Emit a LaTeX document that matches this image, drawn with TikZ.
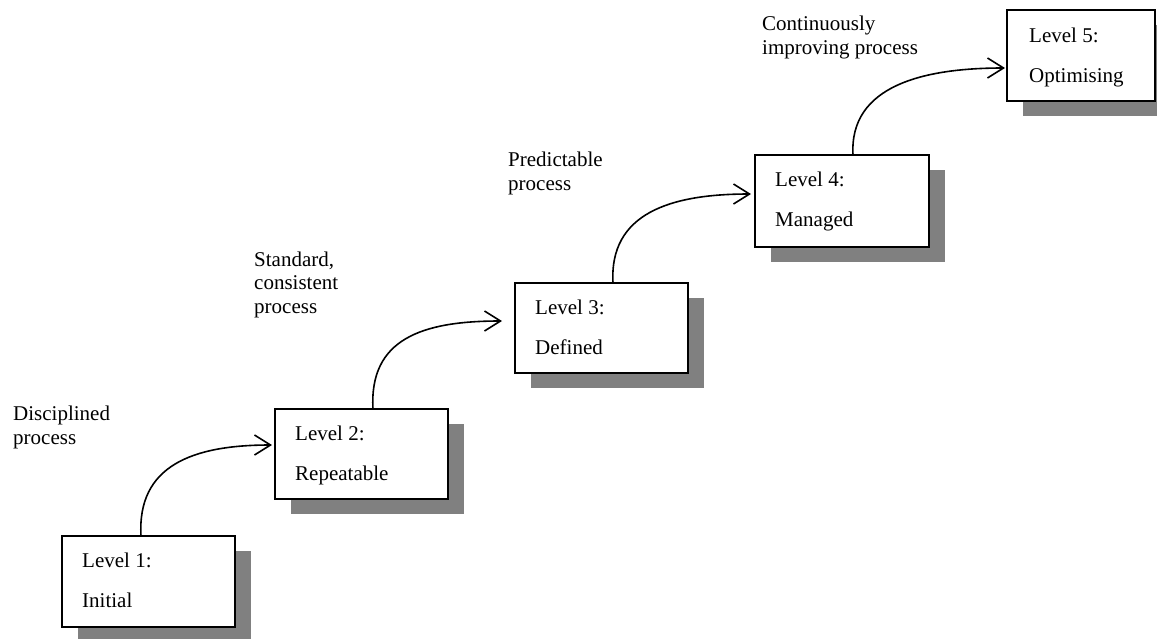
\documentclass[tikz,border=0pt]{standalone}
\usepackage{fontspec}
\setmainfont{Liberation Serif}
\usetikzlibrary{arrows.meta,calc,shadows}
\definecolor{shadowgray}{RGB}{128,128,128}
\begin{document}
\begin{tikzpicture}[x=1pt,y=-1pt,
  lvl/.style={draw=black, line width=1.8pt, fill=white, anchor=north west,
    inner sep=0pt, outer sep=0pt, minimum width=#1,
    drop shadow={shadow xshift=16pt, shadow yshift=-15pt, fill=shadowgray, opacity=1}},
  lvl/.default=173pt,
  boxtext/.style={anchor=base west, align=left, inner sep=0pt,
    font=\fontsize{21}{40}\selectfont},
  lbl/.style={anchor=base west, align=left, inner sep=0pt,
    font=\fontsize{21}{23.5}\selectfont},
  conn/.style={line width=1.6pt, -{Straight Barb[length=16pt,width=20pt,line width=1.6pt]}}
]
\useasboundingbox (0,0) rectangle (1157,638);

% level boxes
\node[lvl, minimum height=91pt] (l1) at (62,536) {};
\node[lvl, minimum height=90pt] (l2) at (275,409) {};
\node[lvl, minimum height=90pt] (l3) at (515,283) {};
\node[lvl=174pt, minimum height=92pt] (l4) at (755,155) {};
\node[lvl=148pt, minimum height=91pt] (l5) at (1007,10) {};

% box texts (anchor = baseline of the last line)
\node[boxtext] (t1) at ($(l1.north west)+(20,71)$) {Level 1:\\Initial};
\node[boxtext] (t2) at ($(l2.north west)+(20,71)$) {Level 2:\\Repeatable};
\node[boxtext] (t3) at ($(l3.north west)+(20,71)$) {Level 3:\\Defined};
\node[boxtext] (t4) at ($(l4.north west)+(20,71)$) {Level 4:\\Managed};
\node[boxtext] (t5) at ($(l5.north west)+(22,72)$) {Level 5:\\Optimising};

% labels (anchor = baseline of the last line)
\node[lbl] (d1) at (13,444) {Disciplined\\process};
\node[lbl] (d2) at (254,313) {Standard,\\consistent\\process};
\node[lbl] (d3) at (508,190) {Predictable\\process};
\node[lbl] (d4) at (762,54) {Continuously\\improving process};

% connectors
\coordinate (s1) at ($(l1.north west)+(79,0)$);
\coordinate (e1) at ($(l2.north west)+(-3,36)$);
\coordinate (s2) at ($(l2.north west)+(98,0)$);
\coordinate (e2) at ($(l3.north west)+(-13,38)$);
\coordinate (s3) at ($(l3.north west)+(98,0)$);
\coordinate (e3) at ($(l4.north west)+(-4,39)$);
\coordinate (s4) at ($(l4.north west)+(98,0)$);
\coordinate (e4) at ($(l5.north west)+(-2,58)$);
\draw[conn] (s1) .. controls +(-4,-70) and +(-80,0) .. (e1);
\draw[conn] (s2) .. controls +(-4,-70) and +(-80,0) .. (e2);
\draw[conn] (s3) .. controls +(-4,-70) and +(-80,0) .. (e3);
\draw[conn] (s4) .. controls +(-4,-70) and +(-80,0) .. (e4);
\end{tikzpicture}
\end{document}
